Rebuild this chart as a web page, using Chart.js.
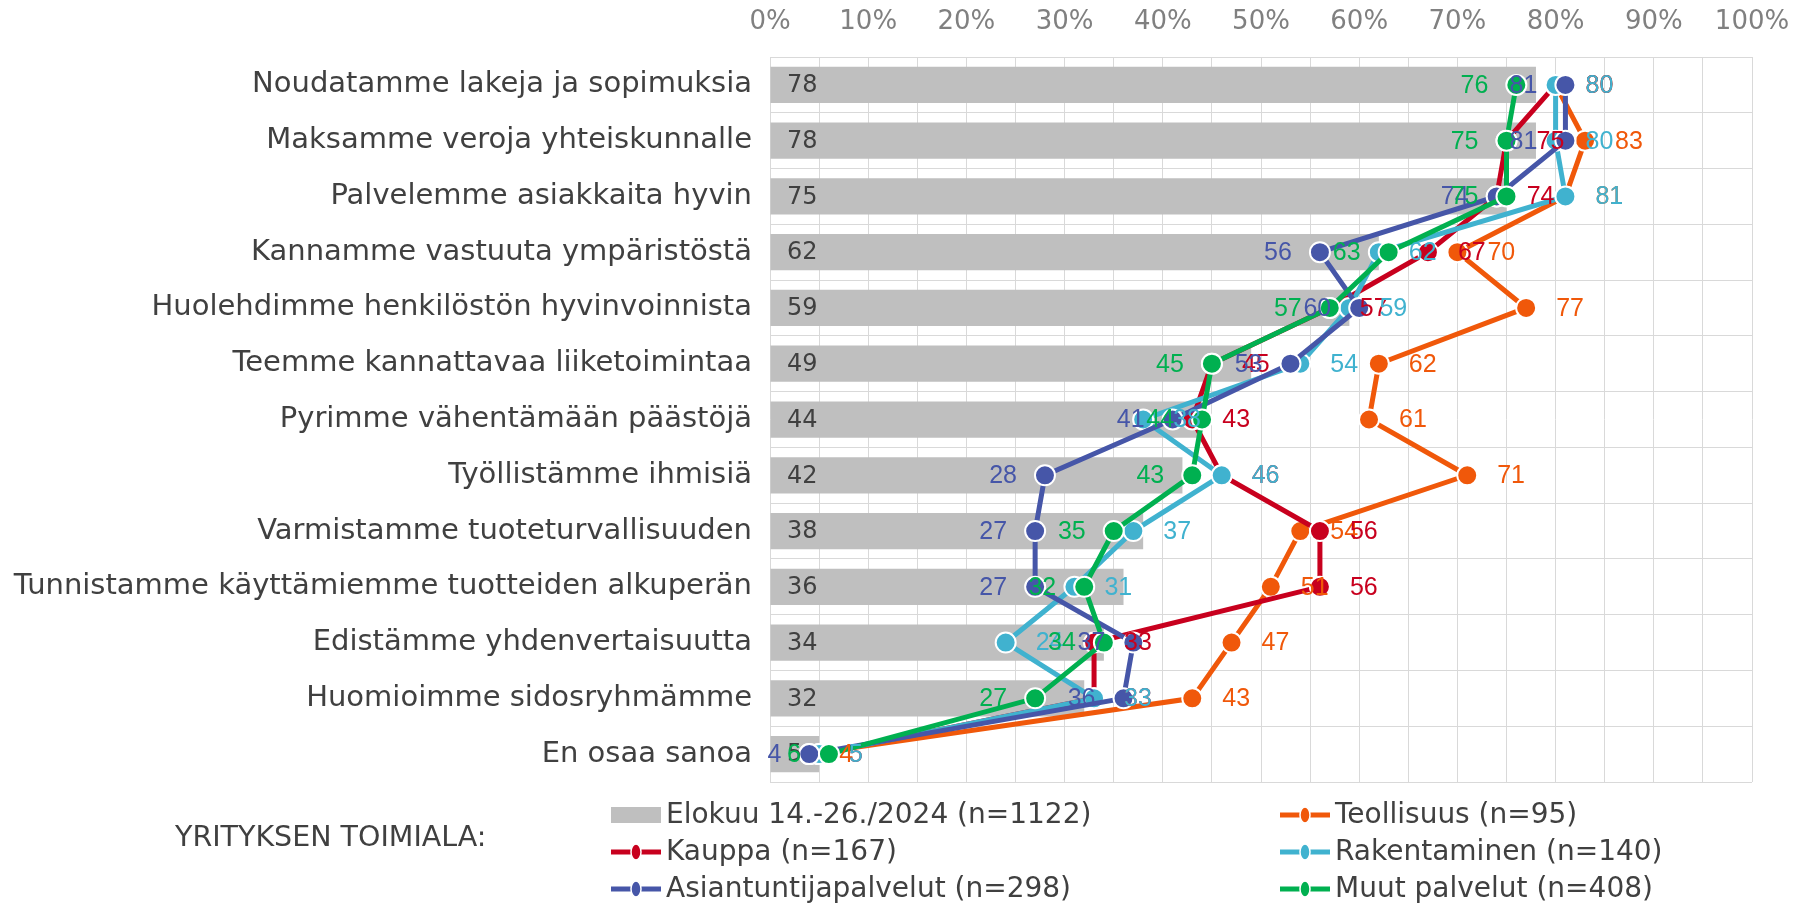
<!DOCTYPE html>
<html>
<head>
<meta charset="utf-8">
<script src="https://cdn.jsdelivr.net/npm/chart.js@4/dist/chart.umd.min.js"></script>
<style>
html,body{margin:0;padding:0;background:#fff;}
canvas{display:block;}
</style>
</head>
<body>
<canvas id="c" width="1798" height="904"></canvas>
<script>
const categories = [
  'Noudatamme lakeja ja sopimuksia',
  'Maksamme veroja yhteiskunnalle',
  'Palvelemme asiakkaita hyvin',
  'Kannamme vastuuta ympäristöstä',
  'Huolehdimme henkilöstön hyvinvoinnista',
  'Teemme kannattavaa liiketoimintaa',
  'Pyrimme vähentämään päästöjä',
  'Työllistämme ihmisiä',
  'Varmistamme tuoteturvallisuuden',
  'Tunnistamme käyttämiemme tuotteiden alkuperän',
  'Edistämme yhdenvertaisuutta',
  'Huomioimme sidosryhmämme',
  'En osaa sanoa'
];
const total        = [78, 78, 75, 62, 59, 49, 44, 42, 38, 36, 34, 32, 5];
const teollisuus   = [80, 83, 81, 70, 77, 62, 61, 71, 54, 51, 47, 43, 4];
const kauppa       = [80, 75, 74, 67, 57, 45, 43, 46, 56, 56, 33, 33, 5];
const rakentaminen = [80, 80, 81, 62, 59, 54, 38, 46, 37, 31, 24, 33, 5];
const asiantuntija = [81, 81, 74, 56, 60, 53, 41, 28, 27, 27, 37, 36, 4];
const muut         = [76, 75, 75, 63, 57, 45, 44, 43, 35, 32, 34, 27, 6];
const tickValues   = [0, 10, 20, 30, 40, 50, 60, 70, 80, 90, 100];
const seriesNames  = ['Elokuu 14.-26./2024 (n=1122)', 'Teollisuus (n=95)', 'Kauppa (n=167)',
                      'Rakentaminen (n=140)', 'Asiantuntijapalvelut (n=298)', 'Muut palvelut (n=408)'];
const legendTitle  = 'YRITYKSEN TOIMIALA:';

const COLORS = ['#BFBFBF', '#F0580A', '#C8001E', '#40B2CF', '#4656A8', '#00B050'];
const LABEL_SIDE = [null, 'right', 'right', 'right', 'left', 'left'];

function lineDs(label, data, color, order) {
  return {
    type: 'line', label, data, indexAxis: 'y',
    borderColor: color, backgroundColor: color,
    borderWidth: 5, pointRadius: 10, pointHoverRadius: 10,
    pointBackgroundColor: color, pointBorderColor: '#FFFFFF', pointBorderWidth: 2,
    tension: 0, order, clip: false
  };
}

const dataLabelPlugin = {
  id: 'dataLabels',
  afterDatasetsDraw(chart) {
    const ctx = chart.ctx;
    ctx.save();
    ctx.textBaseline = 'middle';
    const barMeta = chart.getDatasetMeta(0);
    ctx.font = '24px "DejaVu Sans"';
    ctx.fillStyle = '#404040';
    ctx.textAlign = 'left';
    barMeta.data.forEach((el, i) => {
      ctx.fillText(String(total[i]), chart.chartArea.left + 17, el.y + 1);
    });
    ctx.font = '25px "Liberation Sans"';
    for (let d = 1; d < chart.data.datasets.length; d++) {
      const meta = chart.getDatasetMeta(d);
      const ds = chart.data.datasets[d];
      ctx.fillStyle = COLORS[d];
      meta.data.forEach((el, i) => {
        const v = ds.data[i];
        if (LABEL_SIDE[d] === 'right') {
          ctx.textAlign = 'left';
          ctx.fillText(String(v), el.x + 30, el.y + 1);
        } else {
          ctx.textAlign = 'right';
          ctx.fillText(String(v), el.x - 28, el.y + 1);
        }
      });
    }
    ctx.restore();
  },
  afterDraw(chart) {
    const ctx = chart.ctx;
    ctx.save();
    ctx.textBaseline = 'middle';
    ctx.textAlign = 'left';
    ctx.font = '28.5px "DejaVu Sans"';
    ctx.fillStyle = '#404040';
    ctx.fillText(legendTitle, 175, 839);
    ctx.font = '28px "DejaVu Sans"';
    const cols = [611, 1280];
    const rows = [815, 852, 889];
    for (let d = 0; d < 6; d++) {
      const col = d % 2;
      const row = Math.floor(d / 2);
      const x0 = cols[col], y = rows[row];
      if (d === 0) {
        ctx.fillStyle = COLORS[0];
        ctx.fillRect(x0, y - 8, 50, 16);
      } else {
        ctx.strokeStyle = COLORS[d];
        ctx.lineWidth = 5;
        ctx.beginPath();
        ctx.moveTo(x0, y);
        ctx.lineTo(x0 + 50, y);
        ctx.stroke();
        ctx.beginPath();
        ctx.ellipse(x0 + 25, y, 5, 8, 0, 0, Math.PI * 2);
        ctx.fillStyle = COLORS[d];
        ctx.fill();
        ctx.lineWidth = 1.5;
        ctx.strokeStyle = '#FFFFFF';
        ctx.stroke();
      }
      ctx.fillStyle = '#404040';
      ctx.fillText(seriesNames[d], x0 + 55, y + 1);
    }
    ctx.restore();
  }
};

new Chart(document.getElementById('c'), {
  type: 'bar',
  data: {
    labels: categories,
    datasets: [
      { type: 'bar', label: seriesNames[0], data: total, backgroundColor: COLORS[0],
        categoryPercentage: 1, barPercentage: 0.65, order: 10, indexAxis: 'y' },
      lineDs(seriesNames[1], teollisuus, COLORS[1], 5),
      lineDs(seriesNames[2], kauppa, COLORS[2], 4),
      lineDs(seriesNames[3], rakentaminen, COLORS[3], 3),
      lineDs(seriesNames[4], asiantuntija, COLORS[4], 2),
      lineDs(seriesNames[5], muut, COLORS[5], 1)
    ]
  },
  options: {
    indexAxis: 'y',
    responsive: false,
    animation: false,
    devicePixelRatio: 1,
    layout: { padding: { left: 0, right: 46, top: 0, bottom: 122 } },
    plugins: { legend: { display: false }, tooltip: { enabled: false } },
    scales: {
      x: {
        position: 'top', min: 0, max: 100,
        afterFit(scale) { scale.height = 57; scale.paddingLeft = 0; scale.paddingRight = 0; },
        afterBuildTicks(scale) {
          const t = [];
          for (let v = 0; v <= 100; v += 5) t.push({ value: v });
          scale.ticks = t;
        },
        ticks: {
          autoSkip: false, maxRotation: 0, padding: 19,
          color: '#808080', font: { family: 'DejaVu Sans', size: 26 },
          callback: (v) => tickValues.includes(v) ? v + '%' : ''
        },
        grid: { color: '#D9D9D9', lineWidth: 1, drawTicks: false },
        border: { display: false }
      },
      y: {
        type: 'category',
        afterFit(scale) { scale.width = 770; },
        ticks: { color: '#404040', padding: 18, font: { family: 'DejaVu Sans', size: 29 } },
        grid: { color: '#D9D9D9', lineWidth: 1, drawTicks: false, offset: true },
        border: { display: false }
      }
    }
  },
  plugins: [dataLabelPlugin]
});
</script>
</body>
</html>
